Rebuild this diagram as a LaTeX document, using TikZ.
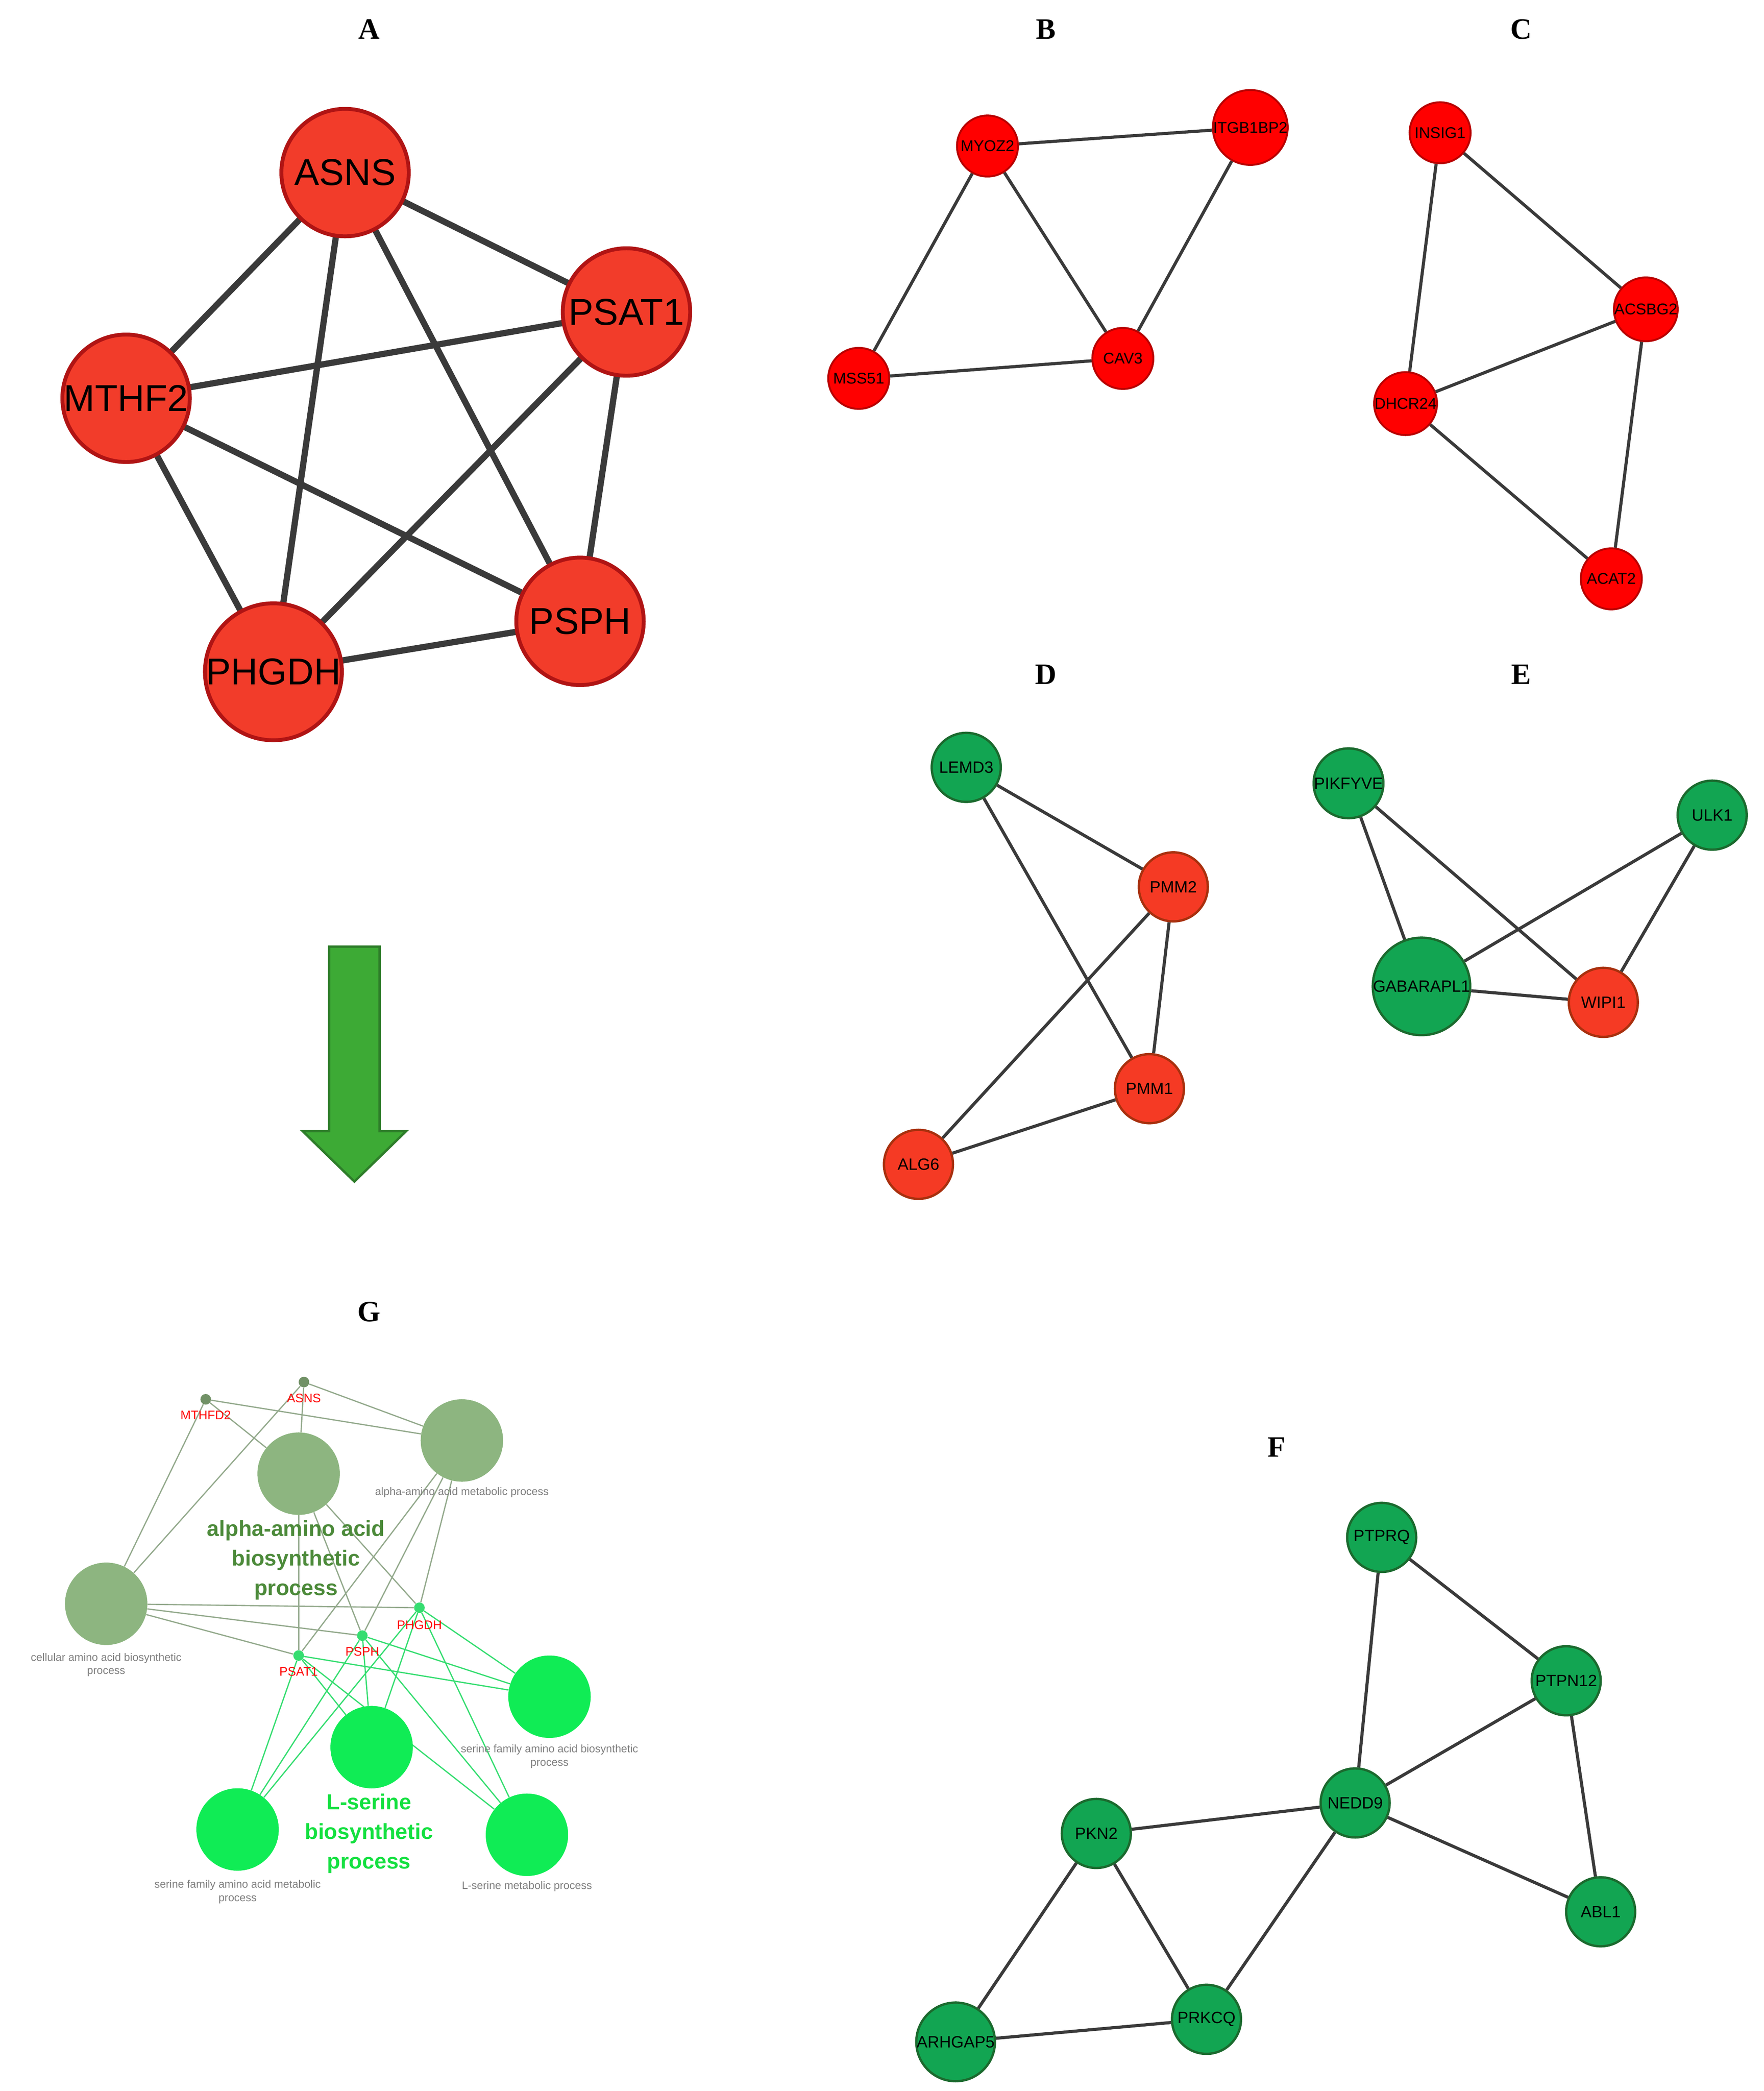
\documentclass[tikz,border=0pt]{standalone}
\usepackage{fontspec}
\setmainfont{Liberation Serif}
\newfontfamily\sansf{Liberation Sans}
\definecolor{redA}{HTML}{F23C2A}
\definecolor{redAb}{HTML}{B01414}
\definecolor{redB}{HTML}{FF0000}
\definecolor{redBb}{HTML}{B80000}
\definecolor{redD}{HTML}{F53A24}
\definecolor{redDb}{HTML}{A8300E}
\definecolor{grn}{HTML}{12A552}
\definecolor{grnb}{HTML}{1B6A2E}
\definecolor{edge}{HTML}{3A3A3A}
\definecolor{gcirc}{HTML}{8DB580}
\definecolor{gline}{HTML}{93A98C}
\definecolor{bcirc}{HTML}{10EC55}
\definecolor{bline}{HTML}{35DD70}
\definecolor{darkg}{HTML}{4C8A3A}
\definecolor{lsg}{HTML}{14E040}
\definecolor{arrf}{HTML}{3DAA35}
\definecolor{arrb}{HTML}{2E7D2A}
\begin{document}
\begin{tikzpicture}[x=0.3mm,y=-0.3mm,
  nA/.style={circle,fill=redA,draw=redAb,line width=2.5pt,minimum size=28.8mm,inner sep=0pt,font=\sansf\fontsize{24}{26}\selectfont},
  nB/.style={circle,fill=redB,draw=redBb,line width=1.2pt,minimum size=13.8mm,inner sep=0pt,font=\sansf\fontsize{10}{11}\selectfont},
  nR/.style={circle,fill=redD,draw=redDb,line width=1.5pt,minimum size=15.6mm,inner sep=0pt,font=\sansf\fontsize{10.5}{11}\selectfont},
  nG/.style={circle,fill=grn,draw=grnb,line width=1.5pt,minimum size=15.6mm,inner sep=0pt,font=\sansf\fontsize{10.5}{11}\selectfont},
  eA/.style={draw=edge,line width=4pt},
  eB/.style={draw=edge,line width=2pt},
  lab/.style={font=\bfseries\fontsize{19}{21}\selectfont},
  gc/.style={circle,fill=gcirc,minimum size=18.6mm,inner sep=0pt},
  bc/.style={circle,fill=bcirc,minimum size=18.6mm,inner sep=0pt},
  dotg/.style={circle,fill=gcirc!80!black,minimum size=2.4mm,inner sep=0pt},
  dotb/.style={circle,fill=bline,minimum size=2.4mm,inner sep=0pt},
  rl/.style={text=red,font=\sansf\fontsize{8}{9}\selectfont,inner sep=0pt},
  gl/.style={text=gray,font=\sansf\fontsize{7}{8.5}\selectfont,align=center,inner sep=0pt},
  gle/.style={draw=gline,line width=0.8pt},
  ble/.style={draw=bline,line width=0.8pt}]
\useasboundingbox (0,0) rectangle (1329,1575);
% panel labels
\node[lab] (LA) at (278,22) {A};
\node[lab] (LB) at (788,22) {B};
\node[lab] (LC) at (1146,22) {C};
\node[lab] (LD) at (788,508) {D};
\node[lab] (LE) at (1146,508) {E};
\node[lab] (LG) at (278,988) {G};
\node[lab] (LF) at (962,1090) {F};
% A
\begin{scope}[on background layer/.style={}]
\coordinate (a1) at (260,130);\coordinate (a2) at (472,235);\coordinate (a3) at (95,300);
\coordinate (a4) at (437,468);\coordinate (a5) at (206,506);
\foreach \i/\j in {1/2,1/3,1/4,1/5,2/3,2/4,2/5,3/4,3/5,4/5} \draw[eA] (a\i)--(a\j);
\node[nA] (ASNS) at (a1) {ASNS};
\node[nA] (PSAT1) at (a2) {PSAT1};
\node[nA] (MTHF2) at (a3) {MTHF2};
\node[nA] (PSPH) at (a4) {PSPH};
\node[nA] (PHGDH) at (a5) {PHGDH};
\end{scope}
% B
\node[nB] (MYOZ2) at (744,110) {MYOZ2};
\node[nB] (ITGB) at (942,96) {ITGB1BP2};
\node[nB] (MSS51) at (647,285) {MSS51};
\node[nB] (CAV3) at (846,270) {CAV3};
\begin{scope}[on background layer/.style={}]
\end{scope}
% C
\node[nB] (INSIG1) at (1085,100) {INSIG1};
\node[nB] (ACSBG2) at (1240,233) {ACSBG2};
\node[nB] (DHCR24) at (1059,304) {DHCR24};
\node[nB] (ACAT2) at (1214,436) {ACAT2};
% D
\node[nG] (LEMD3) at (728,578) {LEMD3};
\node[nR] (PMM2) at (884,668) {PMM2};
\node[nR] (PMM1) at (866,820) {PMM1};
\node[nR] (ALG6) at (692,877) {ALG6};
% E
\node[nG] (PIKFYVE) at (1016,590) {PIKFYVE};
\node[nG] (ULK1) at (1290,614) {ULK1};
\node[nG] (GABA) at (1071,743) {GABARAPL1};
\node[nR] (WIPI1) at (1208,755) {WIPI1};
% F
\node[nG] (PTPRQ) at (1041,1158) {PTPRQ};
\node[nG] (PTPN12) at (1180,1266) {PTPN12};
\node[nG] (NEDD9) at (1021,1358) {NEDD9};
\node[nG] (PKN2) at (826,1381) {PKN2};
\node[nG] (ABL1) at (1206,1440) {ABL1};
\node[nG] (PRKCQ) at (909,1521) {PRKCQ};
\node[nG] (ARHGAP5) at (720,1538) {ARHGAP5};
\foreach \a/\b in {MYOZ2/ITGB,MYOZ2/MSS51,MYOZ2/CAV3,ITGB/CAV3,MSS51/CAV3,
  INSIG1/ACSBG2,INSIG1/DHCR24,ACSBG2/DHCR24,ACSBG2/ACAT2,DHCR24/ACAT2,
  LEMD3/PMM2,LEMD3/PMM1,PMM2/PMM1,PMM2/ALG6,PMM1/ALG6,
  PIKFYVE/GABA,PIKFYVE/WIPI1,ULK1/GABA,ULK1/WIPI1,GABA/WIPI1,
  PTPRQ/PTPN12,PTPRQ/NEDD9,PTPN12/NEDD9,PTPN12/ABL1,NEDD9/ABL1,NEDD9/PKN2,NEDD9/PRKCQ,PKN2/PRKCQ,PKN2/ARHGAP5,ARHGAP5/PRKCQ}
  \draw[eB] (\a)--(\b);
% arrow
\draw[fill=arrf,draw=arrb,line width=1.5pt] (248,713)--(286,713)--(286,852)--(306,852)--(267,890)--(228,852)--(248,852)--cycle;
% G
\node[gc] (AB) at (225,1110) {};
\node[gc] (AM) at (348,1085) {};
\node[gc] (CB) at (80,1208) {};
\node[bc] (SFB) at (414,1278) {};
\node[bc] (LSB) at (280,1316) {};
\node[bc] (SFM) at (179,1378) {};
\node[bc] (LSM) at (397,1382) {};
\node[dotg] (gMTHFD2) at (155,1054) {};
\node[dotg] (gASNS) at (229,1041) {};
\node[dotb] (gPHGDH) at (316,1211) {};
\node[dotb] (gPSPH) at (273,1232) {};
\node[dotb] (gPSAT1) at (225,1247) {};
\foreach \g in {gMTHFD2,gASNS} \foreach \c in {AB,AM,CB} \draw[gle] (\g)--(\c);
\foreach \g in {gPHGDH,gPSPH,gPSAT1} {\foreach \c in {AB,AM,CB} \draw[gle] (\g)--(\c);
  \foreach \c in {SFB,LSB,SFM,LSM} \draw[ble] (\g)--(\c);}
\foreach \c in {AB,AM,CB,SFB,LSB,SFM,LSM} \node[circle,fill=\ifx\c\relax\fi white,opacity=0] at (\c) {};
\node[gc] at (AB) {};\node[gc] at (AM) {};\node[gc] at (CB) {};
\node[bc] at (SFB) {};\node[bc] at (LSB) {};\node[bc] at (SFM) {};\node[bc] at (LSM) {};
\node[rl] (tMTHFD2) at (155,1066) {MTHFD2};
\node[rl] (tASNS) at (229,1053) {ASNS};
\node[rl] (tPHGDH) at (316,1224) {PHGDH};
\node[rl] (tPSPH) at (273,1244) {PSPH};
\node[rl] (tPSAT1) at (225,1259) {PSAT1};
\node[gl] (tAM) at (348,1124) {alpha-amino acid metabolic process};
\node[gl] (tCB) at (80,1254) {cellular amino acid biosynthetic\\process};
\node[gl] (tSFB) at (414,1323) {serine family amino acid biosynthetic\\process};
\node[gl] (tSFM) at (179,1425) {serine family amino acid metabolic\\process};
\node[gl] (tLSM) at (397,1421) {L-serine metabolic process};
\node[text=darkg,font=\sansf\bfseries\fontsize{14}{19}\selectfont,align=center] (tAB) at (223,1175) {alpha-amino acid\\biosynthetic\\process};
\node[text=lsg,font=\sansf\bfseries\fontsize{14}{19}\selectfont,align=center] (tLSB) at (278,1381) {L-serine\\biosynthetic\\process};
\end{tikzpicture}
\end{document}
